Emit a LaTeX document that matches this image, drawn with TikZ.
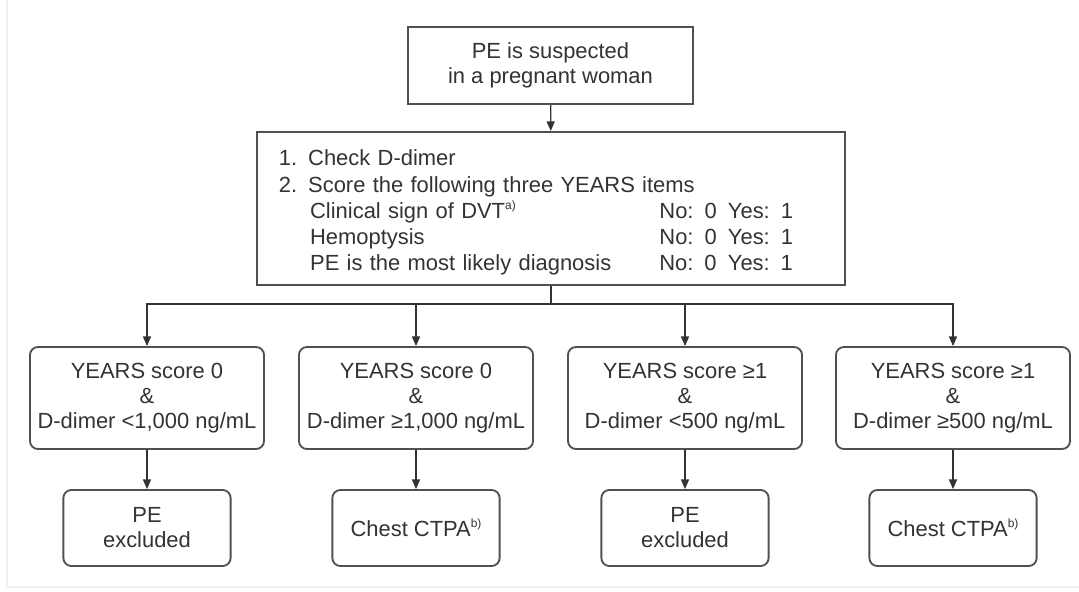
\documentclass[tikz,border=0pt]{standalone}
\usepackage{fontspec}
\setmainfont{Liberation Sans}
\usepackage{tikz}
\usetikzlibrary{arrows.meta}

\definecolor{inkgray}{HTML}{333333}
\definecolor{edgegray}{HTML}{505050}

\newcommand{\fnmark}[1]{\raisebox{0.75ex}{\fontsize{8.5}{8.5}\selectfont #1}}

\tikzset{
  plainbox/.style={draw=edgegray, line width=1.3pt, text=inkgray, align=center,
    font=\fontsize{15.6}{17.8}\selectfont},
  roundbox/.style={plainbox, rounded corners=0.2cm},
  arr/.style={draw=inkgray, line width=0.9pt, -{Triangle[length=2.4mm,width=2mm]}}
}

\begin{document}
\begin{tikzpicture}[x=0.025cm, y=-0.025cm]
  \useasboundingbox (0,0) rectangle (1079,592);
  \fill[white] (0,0) rectangle (1079,592);
  \draw[gray!12, line width=1pt] (7,0) -- (7,587) -- (1079,587);

  \node[plainbox, minimum width=7.13cm, minimum height=1.93cm] (susp) at (550.5,65.5)
    {PE is suspected\\in a pregnant woman};
  \node[plainbox, minimum width=14.7cm, minimum height=3.83cm, align=left,
        text width=13.6cm, inner xsep=0.55cm,
        font=\fontsize{15.6}{18.6}\selectfont] (check) at (551,208.5)
    {\rule{0pt}{17pt}1. Check D-dimer\\
     2. Score the following three YEARS items\\
     \hspace*{0.78cm}\makebox[8.73cm][l]{Clinical sign of DVT\fnmark{a)}}No: 0\hspace{0.28cm}Yes: 1\\
     \hspace*{0.78cm}\makebox[8.73cm][l]{Hemoptysis}No: 0\hspace{0.28cm}Yes: 1\\
     \hspace*{0.78cm}\makebox[8.73cm][l]{PE is the most likely diagnosis}No: 0\hspace{0.28cm}Yes: 1};

  % four branches
  \node[roundbox, minimum width=5.85cm, minimum height=2.55cm] (cond1) at (147,398)
    {YEARS score 0\\\&\\D-dimer <1,000 ng/mL};
  \node[roundbox, minimum width=5.85cm, minimum height=2.55cm] (cond2) at (416,398)
    {YEARS score 0\\\&\\D-dimer ≥1,000 ng/mL};
  \node[roundbox, minimum width=5.85cm, minimum height=2.55cm] (cond3) at (685,398)
    {YEARS score ≥1\\\&\\D-dimer <500 ng/mL};
  \node[roundbox, minimum width=5.85cm, minimum height=2.55cm] (cond4) at (953,398)
    {YEARS score ≥1\\\&\\D-dimer ≥500 ng/mL};

  \node[roundbox, minimum width=4.18cm, minimum height=1.9cm] (res1) at (147,528)
    {PE\\excluded};
  \node[roundbox, minimum width=4.18cm, minimum height=1.9cm] (res2) at (416,528)
    {Chest CTPA\fnmark{b)}};
  \node[roundbox, minimum width=4.18cm, minimum height=1.9cm] (res3) at (685,528)
    {PE\\excluded};
  \node[roundbox, minimum width=4.18cm, minimum height=1.9cm] (res4) at (953,528)
    {Chest CTPA\fnmark{b)}};

  \coordinate (bus) at (551,304);
  \draw[arr] (susp) -- (check);
  \foreach \i in {1,...,4} {
    \draw[arr] (check.south) -- (bus) -| (cond\i.north);
    \draw[arr] (cond\i) -- (res\i);
  }
\end{tikzpicture}
\end{document}
